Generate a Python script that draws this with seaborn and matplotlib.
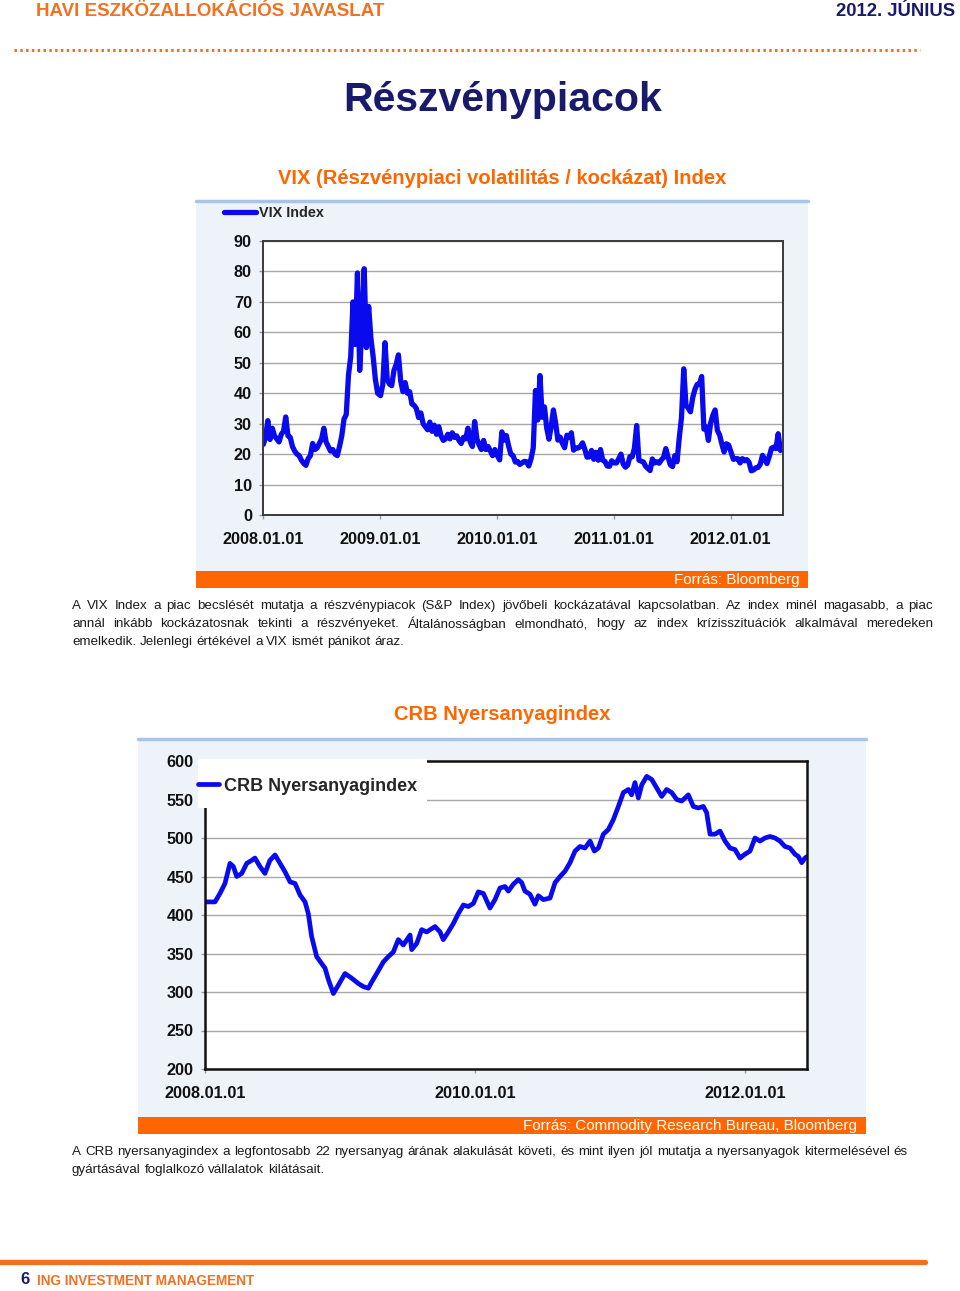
import pandas as pd
import seaborn as sns
import matplotlib
matplotlib.use('Agg')
import matplotlib.pyplot as plt
import matplotlib.dates as mdates
from matplotlib.patches import Rectangle
from matplotlib.lines import Line2D
from matplotlib.font_manager import FontProperties

# VIX index, weekly readings per year
vix_2008 = [23.2, 25.5, 31.0, 24.8, 28.5, 26.0, 25.0, 24.0, 26.5, 27.5, 32.2, 26.0, 25.5,
            22.5, 21.0, 20.0, 19.5, 18.0, 17.0, 16.3, 18.5, 19.5, 23.5, 21.5, 22.0, 23.5,
            25.0, 28.5, 24.0, 22.5, 21.0, 21.5, 20.0, 19.5, 22.5, 26.0, 31.5, 33.0, 46.0,
            52.0, 70.0, 56.0, 79.5, 47.5, 62.0, 80.9, 55.0, 68.5, 58.0, 52.0, 44.5, 40.0]
vix_2009 = [39.2, 42.8, 56.6, 44.5, 43.0, 42.5, 47.5, 49.5, 52.6, 44.0, 40.5, 43.5, 40.0,
            40.5, 36.5, 36.0, 35.0, 32.0, 33.5, 30.0, 29.0, 28.0, 30.5, 27.5, 29.5, 26.5,
            29.0, 26.0, 24.5, 25.0, 26.5, 25.0, 27.0, 25.5, 26.0, 24.5, 23.5, 25.5, 25.0,
            28.5, 24.0, 22.5, 30.7, 25.0, 23.0, 21.5, 24.5, 21.5, 22.5, 21.0, 19.5, 21.5]
vix_2010 = [19.5, 18.1, 27.3, 24.6, 26.1, 22.7, 20.0, 19.5, 17.4, 17.6, 16.6, 17.1, 17.6,
            17.5, 16.1, 18.4, 22.0, 40.9, 31.2, 45.8, 32.1, 35.5, 28.6, 24.9, 29.0, 34.5,
            30.1, 24.6, 25.6, 23.5, 22.1, 26.2, 25.5, 27.0, 21.3, 22.0, 22.0, 22.5, 23.7,
            21.6, 19.0, 19.1, 21.2, 18.3, 20.6, 18.0, 21.5, 18.0, 17.6, 16.1, 16.0, 17.8]
vix_2011 = [17.1, 17.1, 18.5, 20.0, 16.7, 15.7, 16.4, 19.2, 19.1, 21.9, 29.4, 18.0, 17.7,
            17.4, 16.0, 15.3, 14.6, 18.4, 17.1, 17.5, 17.0, 18.1, 18.9, 21.8, 19.0, 16.5,
            15.9, 19.5, 17.5, 25.3, 32.0, 48.0, 36.0, 35.1, 33.9, 38.5, 41.3, 42.9, 43.0,
            45.5, 28.2, 29.0, 24.5, 30.2, 32.8, 34.5, 27.8, 26.3, 23.3, 20.7, 23.4, 23.0]
vix_2012 = [20.6, 18.3, 18.5, 18.5, 17.1, 18.5, 17.8, 18.2, 17.3, 14.5, 14.8, 15.5, 15.6,
            16.7, 19.6, 18.3, 16.9, 19.2, 21.9, 22.3, 21.8, 26.7, 21.2, 22.0]

# CRB commodity index: position in decimal years and value
crb_year = [2008.000, 2008.074, 2008.111, 2008.148, 2008.185, 2008.210, 2008.235, 2008.272,
            2008.309, 2008.346, 2008.370, 2008.407, 2008.444, 2008.481, 2008.519, 2008.556,
            2008.593, 2008.630, 2008.667, 2008.704, 2008.741, 2008.765, 2008.790, 2008.827,
            2008.864, 2008.889, 2008.914, 2008.951, 2008.988, 2009.037, 2009.086, 2009.136,
            2009.173, 2009.210, 2009.235, 2009.272, 2009.321, 2009.358, 2009.395, 2009.432,
            2009.469, 2009.519, 2009.531, 2009.568, 2009.605, 2009.642, 2009.704, 2009.741,
            2009.765, 2009.802, 2009.840, 2009.877, 2009.914, 2009.951, 2009.988, 2010.025,
            2010.062, 2010.111, 2010.148, 2010.185,
            2010.222, 2010.247, 2010.284, 2010.321, 2010.346, 2010.370, 2010.407, 2010.444,
            2010.469, 2010.506, 2010.556, 2010.593, 2010.630, 2010.667, 2010.704, 2010.741,
            2010.778, 2010.815, 2010.852, 2010.884, 2010.914, 2010.951, 2010.988, 2011.025,
            2011.062, 2011.099, 2011.136, 2011.160, 2011.185, 2011.210, 2011.235, 2011.272,
            2011.309, 2011.346, 2011.383, 2011.420, 2011.457, 2011.494, 2011.531, 2011.580,
            2011.617, 2011.654, 2011.691, 2011.716, 2011.741, 2011.778, 2011.815, 2011.852,
            2011.889, 2011.926, 2011.963, 2012.000, 2012.037, 2012.074, 2012.111, 2012.148,
            2012.185, 2012.222, 2012.259, 2012.296, 2012.333, 2012.370, 2012.395, 2012.420,
            2012.444, 2012.461]
crb_value = [417, 417, 428, 441, 467, 463, 450, 454, 467, 471, 474, 463, 454, 471, 478, 467,
             456, 443, 441, 426, 417, 402, 372, 346, 337, 331, 316, 298, 309, 324, 318, 311,
             307, 305, 313, 324, 339, 346, 352, 368, 361, 374, 355, 363, 381, 378, 385, 378,
             368, 378, 389, 402, 413, 411, 415, 430, 428, 409, 420, 435,
             437, 431, 440, 446, 442, 431, 427, 414, 425, 420, 422, 442, 450, 457, 468, 483,
             489, 487, 496, 483, 487, 505, 511, 524, 541, 559, 563, 556, 572, 552, 569, 580,
             576, 565, 554, 563, 559, 550, 548, 556, 541, 539, 541, 533, 505, 505, 509, 496,
             487, 485, 474, 479, 483, 500, 496, 500, 502, 500, 496, 489, 487, 479, 476, 468,
             474, 476]

vix_ticks = ['2008-01-01', '2009-01-01', '2010-01-01', '2011-01-01', '2012-01-01']
crb_ticks = ['2008-01-01', '2010-01-01', '2012-01-01']

vix_text = [
    "A VIX Index a piac becslését mutatja a részvénypiacok (S&P Index) jövőbeli kockázatával kapcsolatban. Az index minél magasabb, a piac",
    "annál inkább kockázatosnak tekinti a részvényeket. Általánosságban elmondható, hogy az index krízisszituációk alkalmával meredeken",
    "emelkedik. Jelenlegi értékével a VIX ismét pánikot áraz.",
]
crb_text = [
    "A CRB nyersanyagindex a legfontosabb 22 nyersanyag árának alakulását követi, és mint ilyen jól mutatja a nyersanyagok kitermelésével és",
    "gyártásával foglalkozó vállalatok kilátásait.",
]

W, H = 960, 1291
ORANGE = '#F37021'
BAR = '#FF6600'
NAVY = '#1A1A6C'
BLUE = '#0A0AEE'
PANEL = '#EEF3FA'
PANEL_LINE = '#A9C4E6'


def fx(px):
    return px / W


def fy(py):
    return 1 - py / H


def to_dates(years):
    start = pd.Timestamp('2008-01-01')
    return [start + pd.to_timedelta((y - 2008) * 365.25, unit='D') for y in years]


sns.set_theme(style='white')
plt.rcParams['font.family'] = ['Liberation Sans', 'DejaVu Sans']

fig = plt.figure(figsize=(9.6, 12.91), dpi=100)
renderer = fig.canvas.get_renderer()


def text_width(s, size):
    t = fig.text(0, 0, s, fontsize=size)
    w = t.get_window_extent(renderer).width
    t.remove()
    return w


def put_line(line, x0, x1, y, size=9.6, justify=True):
    words = line.split(' ')
    widths = [text_width(w, size) for w in words]
    if justify:
        gap = ((x1 - x0) - sum(widths)) / (len(words) - 1)
    else:
        gap = text_width('a a', size) - text_width('aa', size)
    x = x0
    for w, wd in zip(words, widths):
        fig.text(fx(x), fy(y), w, fontsize=size, color='#1a1a1a', ha='left', va='center')
        x += wd + gap


def panel(x0, x1, y0, y1, source, src_x):
    fig.add_artist(Rectangle((fx(x0), fy(y1)), (x1 - x0) / W, (y1 - y0) / H,
                             transform=fig.transFigure, facecolor=PANEL, edgecolor='none', zorder=-2))
    fig.add_artist(Line2D([fx(x0), fx(x1)], [fy(y0), fy(y0)], color=PANEL_LINE, lw=2.5, zorder=-1))
    fig.add_artist(Rectangle((fx(x0), fy(y1 + 17)), (x1 - x0) / W, 17 / H,
                             transform=fig.transFigure, facecolor=BAR, edgecolor='none', zorder=-1))
    fig.text(fx(src_x), fy(y1 + 9), source, color='white', fontsize=11, ha='right', va='center')


def style_axis(ax, spine_color, spine_w):
    ax.set_facecolor('white')
    ax.grid(axis='y', color='#A8A8A8', lw=1.0)
    ax.grid(axis='x', visible=False)
    for sp in ax.spines.values():
        sp.set_color(spine_color)
        sp.set_linewidth(spine_w)
    ax.tick_params(axis='both', which='major', bottom=True, left=True, direction='out',
                   length=3, width=1, color='#999999')
    ax.tick_params(axis='y', pad=5)
    ax.tick_params(axis='x', pad=9)
    ax.xaxis.set_major_formatter(mdates.DateFormatter('%Y.%m.%d'))
    ax.set_xlabel('')
    ax.set_ylabel('')
    fp = FontProperties(weight='bold', size=11.7)
    for lbl in ax.get_xticklabels() + ax.get_yticklabels():
        lbl.set_fontproperties(fp)
        lbl.set_color('#111111')


# header
fig.text(fx(36), fy(12), 'HAVI ESZKÖZALLOKÁCIÓS JAVASLAT', color=ORANGE, fontsize=13.5,
         fontweight='bold', ha='left', va='center')
fig.text(fx(955), fy(12), '2012. JÚNIUS', color=NAVY, fontsize=13.3,
         fontweight='bold', ha='right', va='center')
fig.add_artist(Line2D([fx(14), fx(920)], [fy(50), fy(50)], color=ORANGE, lw=2.2,
                      linestyle=(0, (0.8, 1.1))))
fig.text(fx(503), fy(100), 'Részvénypiacok', color=NAVY, fontsize=29.5, fontweight='bold',
         ha='center', va='center')

# VIX chart
fig.text(fx(502), fy(179), 'VIX (Részvénypiaci volatilitás / kockázat) Index', color=BAR,
         fontsize=14.5, fontweight='bold', ha='center', va='center')
panel(196, 808, 201, 571, 'Forrás: Bloomberg', 800)

vix_values = vix_2008 + vix_2009 + vix_2010 + vix_2011 + vix_2012
vix_dates = []
for year, vals in zip([2008, 2009, 2010, 2011, 2012], [vix_2008, vix_2009, vix_2010, vix_2011, vix_2012]):
    vix_dates += list(pd.date_range(f'{year}-01-02', periods=len(vals), freq='7D'))
vix = pd.DataFrame({'date': vix_dates, 'value': vix_values})

ax1 = fig.add_axes([fx(263), fy(515), (783 - 263) / W, (515 - 241) / H])
sns.lineplot(data=vix, x='date', y='value', ax=ax1, color=BLUE, lw=3.8, label='VIX Index')
ax1.set_ylim(0, 90)
ax1.set_yticks(range(0, 91, 10))
ax1.set_xlim(pd.Timestamp('2008-01-01'), pd.Timestamp('2012-06-12'))
ax1.set_xticks(pd.to_datetime(vix_ticks))
style_axis(ax1, '#3a3a3a', 1.4)
ax1.legend(loc='center left', bbox_to_anchor=(-0.075, 1.102), frameon=False,
           handlelength=2.2, handletextpad=0.25, borderaxespad=0, borderpad=0,
           prop=FontProperties(weight='bold', size=10.4))

for i, line in enumerate(vix_text):
    put_line(line, 72, 933, 606 + 18 * i, justify=(i < len(vix_text) - 1))

# CRB chart
fig.text(fx(502), fy(715), 'CRB Nyersanyagindex', color=BAR, fontsize=14.5,
         fontweight='bold', ha='center', va='center')
panel(138, 866, 739, 1117, 'Forrás: Commodity Research Bureau, Bloomberg', 857)

crb = pd.DataFrame({'date': to_dates(crb_year), 'value': crb_value})
ax2 = fig.add_axes([fx(205), fy(1069), (807 - 205) / W, (1069 - 761) / H])
sns.lineplot(data=crb, x='date', y='value', ax=ax2, color=BLUE, lw=3.4, label='CRB Nyersanyagindex')
ax2.set_ylim(200, 600)
ax2.set_yticks(range(200, 601, 50))
ax2.set_xlim(pd.Timestamp('2008-01-01'), to_dates([2008 + 602 / 135])[0])
ax2.set_xticks(pd.to_datetime(crb_ticks))
style_axis(ax2, '#111111', 1.8)
ax2.add_patch(Rectangle(((198 - 205) / 602, (1069 - 808) / 308), (427 - 198) / 602, 0.16,
                        transform=ax2.transAxes, facecolor='white', edgecolor='none',
                        zorder=4, clip_on=False))
leg = ax2.legend(loc='center left', bbox_to_anchor=((198 - 205) / 602, (1069 - 786) / 308),
                 frameon=False, handlelength=1.15, handletextpad=0.3, borderaxespad=0,
                 borderpad=0, prop=FontProperties(weight='bold', size=13))
leg.set_zorder(6)

for i, line in enumerate(crb_text):
    put_line(line, 72, 908, 1152 + 18 * i, justify=(i < len(crb_text) - 1))

# footer
fig.add_artist(Line2D([0, fx(925)], [fy(1262), fy(1262)], color=ORANGE, lw=3.8))
fig.text(fx(20), fy(1280), '6', color=NAVY, fontsize=12, fontweight='bold',
         ha='left', va='center')
fig.text(fx(37), fy(1281), 'ING INVESTMENT MANAGEMENT', color=ORANGE, fontsize=9.8,
         fontweight='bold', ha='left', va='center')

fig.savefig('out.png', dpi=100)
